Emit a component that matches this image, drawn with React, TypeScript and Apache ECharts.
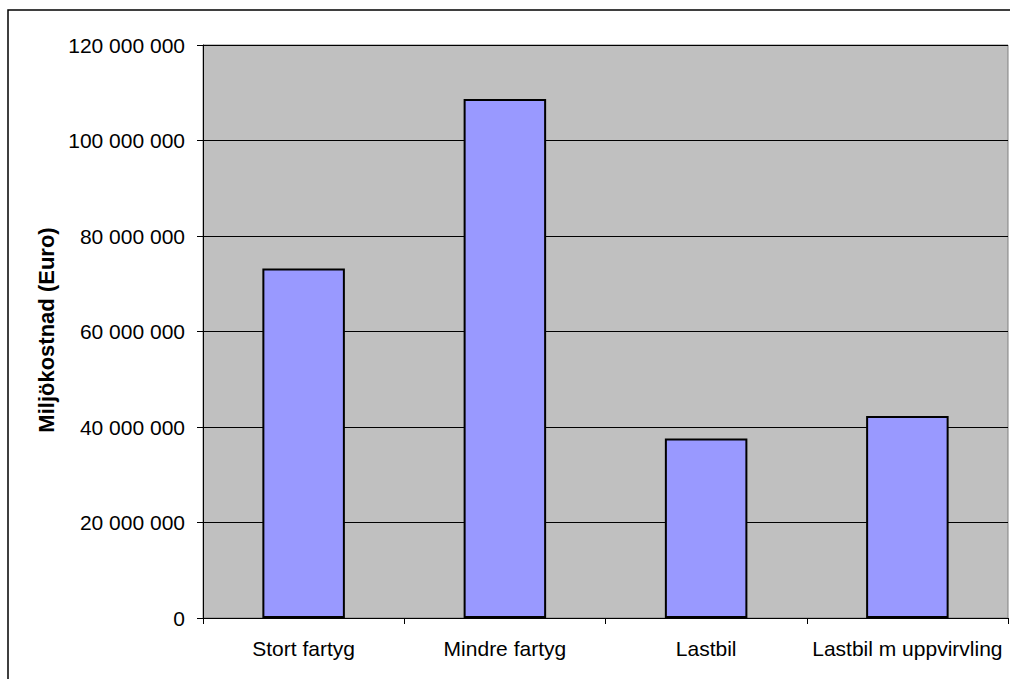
import React, { useEffect, useRef } from "react";
import * as echarts from "echarts";

// Environmental cost per transport alternative
const categories = ["Stort fartyg", "Mindre fartyg", "Lastbil", "Lastbil m uppvirvling"];
const costEuro = [73200000, 108700000, 37600000, 42300000];
const yAxisTitle = "Miljökostnad (Euro)";
const yMin = 0;
const yMax = 120000000;
const yStep = 20000000;

const FONT = 'Arial, "Liberation Sans", sans-serif';

// 120000000 -> "120 000 000"
const formatSpaced = (v: number) =>
  String(Math.round(v)).replace(/\B(?=(\d{3})+(?!\d))/g, " ");

export default function App() {
  const ref = useRef<HTMLDivElement>(null);

  useEffect(() => {
    if (!ref.current) return;
    const chart = echarts.init(ref.current, undefined, { renderer: "svg" });
    chart.setOption({
      animation: false,
      backgroundColor: "#ffffff",
      grid: {
        left: 203,
        right: 2,
        top: 45,
        bottom: 61,
        show: true,
        backgroundColor: "#C0C0C0",
        borderColor: "#808080",
        borderWidth: 1,
      },
      xAxis: {
        type: "category",
        data: categories,
        boundaryGap: true,
        axisLine: { show: true, lineStyle: { color: "#000", width: 1 } },
        axisTick: { show: true, length: 6, alignWithLabel: false, lineStyle: { color: "#000" } },
        axisLabel: {
          color: "#000",
          fontFamily: FONT,
          fontSize: 21,
          margin: 20,
          interval: 0,
        },
        splitLine: { show: false },
      },
      yAxis: {
        type: "value",
        min: yMin,
        max: yMax,
        interval: yStep,
        axisLine: { show: true, lineStyle: { color: "#000", width: 1 } },
        axisTick: { show: true, length: 6, lineStyle: { color: "#000" } },
        axisLabel: {
          color: "#000",
          fontFamily: FONT,
          fontSize: 21,
          margin: 18,
          formatter: (v: number) => formatSpaced(v),
        },
        splitLine: { show: true, lineStyle: { color: "#000", width: 1 } },
      },
      series: [
        {
          type: "bar",
          data: costEuro,
          barWidth: "41%",
          itemStyle: { color: "#9999FF", borderColor: "#000", borderWidth: 2 },
        },
      ],
      graphic: [
        {
          type: "rect",
          shape: { x: 8, y: 10, width: 1200, height: 1000 },
          style: { fill: "none", stroke: "#000", lineWidth: 1.5 },
          silent: true,
          z: 100,
        },
        {
          type: "text",
          x: 46,
          y: 330,
          rotation: Math.PI / 2,
          style: {
            text: yAxisTitle,
            fontFamily: FONT,
            fontSize: 22,
            fontWeight: "bold",
            fill: "#000",
            align: "center",
            verticalAlign: "middle",
          },
        },
      ],
    });
    return () => chart.dispose();
  }, []);

  return (
    <div
      ref={ref}
      style={{ position: "absolute", left: 0, top: 0, width: 1010, height: 679 }}
    />
  );
}
